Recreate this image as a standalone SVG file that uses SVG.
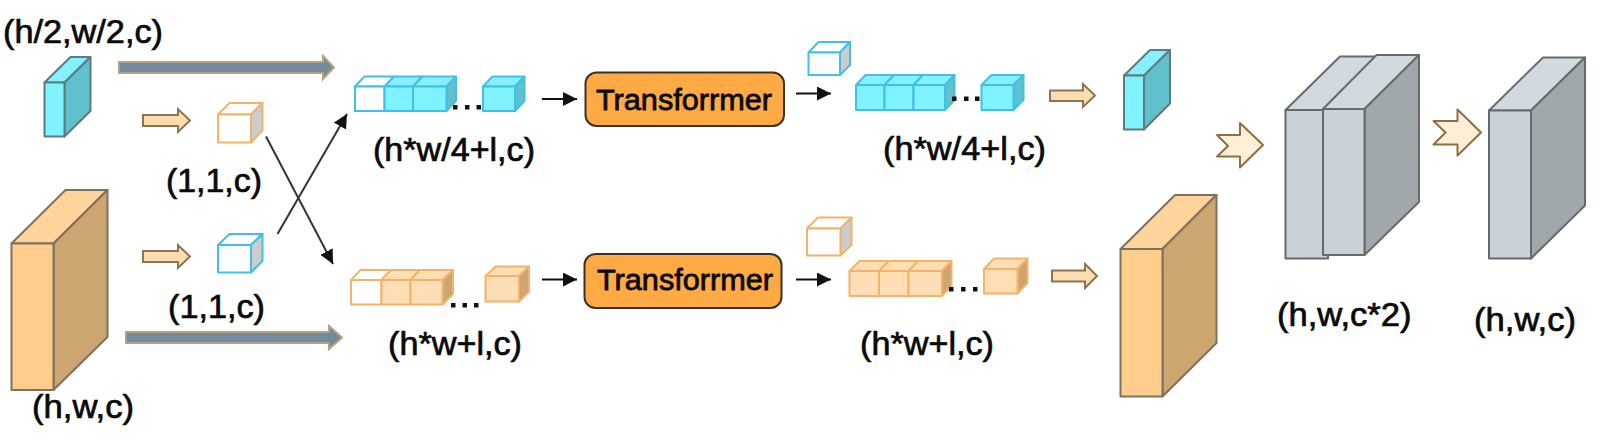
<svg xmlns="http://www.w3.org/2000/svg" width="1600" height="446" viewBox="0 0 1600 446">
<style>
text{font-family:"Liberation Sans",Arial,sans-serif;font-size:33px;fill:#0a0a0a;stroke:#0a0a0a;stroke-width:.7px}
.tf{font-size:30px;stroke-width:.8px}
.box{fill:#FFAA45;stroke:#3a3226;stroke-width:2}
.sb rect,.sb polygon{stroke:#5f7b80;stroke-width:2;stroke-linejoin:round}
.so rect,.so polygon{stroke:#7d7260;stroke-width:2;stroke-linejoin:round}
.sg rect,.sg polygon{stroke:#666b6e;stroke-width:2;stroke-linejoin:round}
.cb rect,.cb polygon{stroke:#40C0E8;stroke-width:2;stroke-linejoin:round}
.co rect,.co polygon{stroke:#F4B468;stroke-width:2;stroke-linejoin:round}
.bf{fill:#7FF3FF}.bt{fill:#86F0FF}.bs{fill:#60C0CC}
.of{fill:#FFCE8C}.ot{fill:#FFD49C}.os{fill:#CCA570}
.gf{fill:#C8D2D8}.gt{fill:#D2DADF}.gs{fill:#A0A8AC}
.lf{fill:#FFDDB5}.w{fill:#fff}.ws{fill:#CCCCCC}
.fat{fill:#6F8C9E;stroke:#B8A080;stroke-width:2}
.tan{fill:#FBDDB0;stroke:#8C7550;stroke-width:2}
.star{fill:#FFEFD9;stroke:#8C7040;stroke-width:2;stroke-linejoin:round}
.ln{fill:none;stroke:#333;stroke-width:2}
.blk{fill:none;stroke:#111;stroke-width:2}
.dot{fill:#111}
</style>
<defs>
<marker id="ah" markerUnits="userSpaceOnUse" markerWidth="15" markerHeight="15" refX="14" refY="7" orient="auto"><path d="M0 0L14 7L0 14Z" fill="#111"/></marker>
</defs>

<g id="connectors">
<polygon class="fat" points="119,62 323,62 323,56 334,67.5 323,79 323,73 119,73"/>
<polygon class="fat" points="126,332 329,332 329,326 342,337.5 329,349 329,343 126,343"/>
<polygon class="tan" points="143,115 178,115 178,109 190,120.5 178,132 178,126 143,126"/>
<polygon class="tan" points="143,251 178,251 178,245 190,256.5 178,268 178,262 143,262"/>
<line class="ln" x1="266" y1="136.500" x2="333" y2="264" marker-end="url(#ah)"/>
<line class="ln" x1="277.500" y1="234" x2="347" y2="114" marker-end="url(#ah)"/>
<line class="blk" x1="542" y1="99" x2="577" y2="99" marker-end="url(#ah)"/>
<line class="blk" x1="542" y1="279.500" x2="577" y2="279.500" marker-end="url(#ah)"/>
<line class="blk" x1="796" y1="93.500" x2="831" y2="93.500" marker-end="url(#ah)"/>
<line class="blk" x1="796" y1="279.500" x2="831" y2="279.500" marker-end="url(#ah)"/>
<polygon class="tan" points="1050,90.500 1083,90.500 1083,84 1095,95.500 1083,107 1083,101 1050,101"/>
<polygon class="tan" points="1052,270.500 1085,270.500 1085,264 1097,276 1085,288 1085,281.500 1052,281.500"/>
<polygon class="star" points="1217,135 1240,135 1240,123 1263,145 1240,167.500 1240,156.500 1217,156.500 1228,146"/>
<polygon class="star" points="1433.500,121 1457.500,121 1457.500,109.500 1481,132.500 1457.500,155.500 1457.500,144.500 1433.500,144.500 1445.500,132.500"/>
</g>

<g id="slab-blue-in" class="sb"><polygon class="bt" points="44.500,82.500 64.500,82.500 90.500,57 70.500,57"/><polygon class="bs" points="64.500,82.500 90.500,57 90.500,111 64.500,136.500"/><rect class="bf" x="44.500" y="82.500" width="20" height="54"/></g>
<g id="slab-orange-in" class="so"><polygon class="ot" points="11.500,243.500 53.500,243.500 107.500,190 65.500,190"/><polygon class="os" points="53.500,243.500 107.500,190 107.500,337 53.500,390"/><rect class="of" x="11.500" y="243.500" width="42" height="146.500"/></g>

<g id="cube-orange-token" class="co"><polygon class="w" points="218,114.500 251,114.500 262.500,103 229.500,103"/><polygon class="ws" points="251,114.500 262.500,103 262.500,130.500 251,142.500"/><rect class="w" x="218" y="114.500" width="33" height="28"/></g>
<g id="cube-blue-token" class="cb"><polygon class="w" points="218,245 251,245 262.500,234 229.500,234"/><polygon class="ws" points="251,245 262.500,234 262.500,261 251,272.500"/><rect class="w" x="218" y="245" width="33" height="27.500"/></g>

<g id="strip-blue-in" class="cb">
<polygon class="w" points="355,86.500 384.500,86.500 394,76.500 364.500,76.500"/><polygon class="bt" points="384.500,86.500 413,86.500 422.500,76.500 394,76.500"/><polygon class="bt" points="413,86.500 446.500,86.500 456,76.500 422.500,76.500"/><polygon class="bs" points="446.500,86.500 456,76.500 456,101 446.500,111"/>
<rect class="w" x="355" y="86.500" width="29.500" height="24.500"/><rect class="bf" x="384.500" y="86.500" width="28.500" height="24.500"/><rect class="bf" x="413" y="86.500" width="33.500" height="24.500"/>
</g>
<g id="cube-blue-last-in" class="cb"><polygon class="bt" points="483,86.500 515,86.500 524.500,76.500 492.500,76.500"/><polygon class="bs" points="515,86.500 524.500,76.500 524.500,101 515,111"/><rect class="bf" x="483" y="86.500" width="32" height="24.500"/></g>
<g id="dots-blue-in" class="dot"><rect x="453" y="105" width="4.500" height="4.500"/><rect x="465" y="105" width="4.500" height="4.500"/><rect x="476.500" y="105" width="4.500" height="4.500"/></g>

<g id="strip-orange-in" class="co">
<polygon class="w" points="351,280 381.500,280 391,270 360.500,270"/><polygon class="lf" points="381.500,280 410.500,280 420,270 391,270"/><polygon class="lf" points="410.500,280 442.500,280 453,270 420,270"/><polygon class="os" points="442.500,280 453,270 453,294 442.500,304.500"/>
<rect class="w" x="351" y="280" width="30.500" height="24.500"/><rect class="lf" x="381.500" y="280" width="29" height="24.500"/><rect class="lf" x="410.500" y="280" width="32" height="24.500"/>
</g>
<g id="cube-orange-last-in" class="co"><polygon class="lf" points="485.500,276 519,276 529,266.500 495.500,266.500"/><polygon class="os" points="519,276 529,266.500 529,292 519,301.500"/><rect class="lf" x="485.500" y="276" width="33.500" height="25.500"/></g>
<g id="dots-orange-in" class="dot"><rect x="451" y="303" width="4.500" height="4.500"/><rect x="462.500" y="303" width="4.500" height="4.500"/><rect x="474" y="303" width="4.500" height="4.500"/></g>

<g id="transformer-top"><rect class="box" x="585.500" y="72.500" width="198.500" height="53.500" rx="11"/><text class="tf" x="596" y="110" textLength="176" lengthAdjust="spacingAndGlyphs">Transforrmer</text></g>
<g id="transformer-bottom"><rect class="box" x="584.500" y="254" width="197" height="54" rx="11"/><text class="tf" x="597" y="290" textLength="176" lengthAdjust="spacingAndGlyphs">Transforrmer</text></g>

<g id="cube-blue-out-token" class="cb"><polygon class="w" points="808.500,52.500 840,52.500 850,42 818.500,42"/><polygon class="ws" points="840,52.500 850,42 850,65 840,75"/><rect class="w" x="808.500" y="52.500" width="31.500" height="22.500"/></g>
<g id="strip-blue-out" class="cb">
<polygon class="bt" points="856,85 884.500,85 894,75 865.500,75"/><polygon class="bt" points="884.500,85 913.500,85 923,75 894,75"/><polygon class="bt" points="913.500,85 945,85 954.500,75 923,75"/><polygon class="bs" points="945,85 954.500,75 954.500,100 945,110"/>
<rect class="bf" x="856" y="85" width="28.500" height="25"/><rect class="bf" x="884.500" y="85" width="29" height="25"/><rect class="bf" x="913.500" y="85" width="31.500" height="25"/>
</g>
<g id="cube-blue-last-out" class="cb"><polygon class="bt" points="981.500,85 1013.500,85 1023.500,75 991.500,75"/><polygon class="bs" points="1013.500,85 1023.500,75 1023.500,100 1013.500,110"/><rect class="bf" x="981.500" y="85" width="32" height="25"/></g>
<g id="dots-blue-out" class="dot"><rect x="952" y="96.500" width="4.500" height="4.500"/><rect x="964" y="96.500" width="4.500" height="4.500"/><rect x="975" y="96.500" width="4.500" height="4.500"/></g>

<g id="cube-orange-out-token" class="co"><polygon class="w" points="807,228.500 840.500,228.500 851.500,217.500 818,217.500"/><polygon class="ws" points="840.500,228.500 851.500,217.500 851.500,245 840.500,255.500"/><rect class="w" x="807" y="228.500" width="33.500" height="27"/></g>
<g id="strip-orange-out" class="co">
<polygon class="lf" points="849.500,271 879,271 889,261 859.500,261"/><polygon class="lf" points="879,271 908.500,271 918.500,261 889,261"/><polygon class="lf" points="908.500,271 942,271 951.500,261 918.500,261"/><polygon class="os" points="942,271 951.500,261 951.500,286 942,296"/>
<rect class="lf" x="849.500" y="271" width="29.500" height="25"/><rect class="lf" x="879" y="271" width="29.500" height="25"/><rect class="lf" x="908.500" y="271" width="33.500" height="25"/>
</g>
<g id="cube-orange-last-out" class="co"><polygon class="lf" points="984,269 1017.500,269 1027.500,258.500 994,258.500"/><polygon class="os" points="1017.500,269 1027.500,258.500 1027.500,283 1017.500,293.500"/><rect class="lf" x="984" y="269" width="33.500" height="24.500"/></g>
<g id="dots-orange-out" class="dot"><rect x="949" y="287" width="4.500" height="4.500"/><rect x="961" y="287" width="4.500" height="4.500"/><rect x="973" y="287" width="4.500" height="4.500"/></g>

<g id="slab-blue-out" class="sb"><polygon class="bt" points="1124,75.500 1144,75.500 1170,50 1150,50"/><polygon class="bs" points="1144,75.500 1170,50 1170,103.500 1144,129.500"/><rect class="bf" x="1124" y="75.500" width="20" height="54"/></g>
<g id="slab-orange-out" class="so"><polygon class="ot" points="1120.500,249 1162.500,249 1216.500,195 1175,195"/><polygon class="os" points="1162.500,249 1216.500,195 1216.500,343 1162.500,396.500"/><rect class="of" x="1120.500" y="249" width="42" height="147.500"/></g>

<g id="slab-gray-concat" class="sg">
<polygon class="gt" points="1285.500,110 1323,110 1375.500,56.500 1340,56.500"/>
<rect class="gf" x="1285.500" y="110" width="42.500" height="148.500"/>
<polygon class="gt" points="1323,109 1364.500,109 1419,55 1376.500,55"/>
<polygon class="gs" points="1364.500,109 1419,55 1419,202 1364.500,255"/>
<rect class="gf" x="1323" y="109" width="41.500" height="146"/>
</g>
<g id="slab-gray-out" class="sg"><polygon class="gt" points="1489,110.500 1531,110.500 1585,57.500 1543,57.500"/><polygon class="gs" points="1531,110.500 1585,57.500 1585,205.500 1531,258.500"/><rect class="gf" x="1489" y="110.500" width="42" height="148"/></g>

<g id="labels">
<text x="3" y="43" textLength="160" lengthAdjust="spacingAndGlyphs">(h/2,w/2,c)</text>
<text x="166" y="192" textLength="96" lengthAdjust="spacingAndGlyphs">(1,1,c)</text>
<text x="168" y="318" textLength="97" lengthAdjust="spacingAndGlyphs">(1,1,c)</text>
<text x="32" y="418" textLength="102" lengthAdjust="spacingAndGlyphs">(h,w,c)</text>
<text x="373" y="161" textLength="162" lengthAdjust="spacingAndGlyphs">(h*w/4+l,c)</text>
<text x="388" y="355" textLength="134" lengthAdjust="spacingAndGlyphs">(h*w+l,c)</text>
<text x="883" y="160" textLength="163" lengthAdjust="spacingAndGlyphs">(h*w/4+l,c)</text>
<text x="860" y="355" textLength="134" lengthAdjust="spacingAndGlyphs">(h*w+l,c)</text>
<text x="1277" y="326" textLength="134.500" lengthAdjust="spacingAndGlyphs">(h,w,c*2)</text>
<text x="1474" y="331" textLength="102" lengthAdjust="spacingAndGlyphs">(h,w,c)</text>
</g>
</svg>
